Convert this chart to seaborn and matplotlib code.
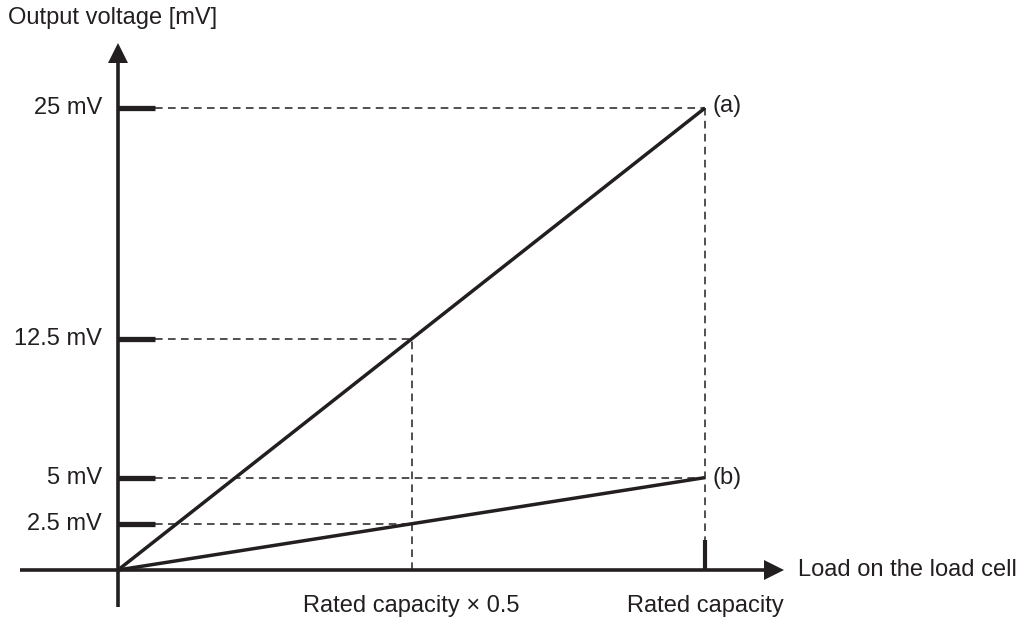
import numpy as np
import pandas as pd
import seaborn as sns
import matplotlib.pyplot as plt

# data: load as fraction of rated capacity, output in mV
load = [0.0, 0.5, 1.0]
out_a = [0.0, 12.5, 25.0]
out_b = [0.0, 2.5, 5.0]
ytick_labels = ["25 mV", "12.5 mV", "5 mV", "2.5 mV"]
xtick_vals = [0.5, 1.0]
xtick_labels = ["Rated capacity \u00d7 0.5", "Rated capacity"]

sns.set_style("white")
plt.rcParams['font.family'] = ['Liberation Sans', 'DejaVu Sans']

ink = "#231f20"
fs = 17

df = pd.DataFrame({
    "load": load * 2,
    "mv": out_a + out_b,
    "line": ["a"] * 3 + ["b"] * 3,
})

fig = plt.figure(figsize=(10.22, 6.18), dpi=100)
ax = fig.add_axes([0, 0, 1, 1])
# pixel mapping: origin at (118, 570), 587 px per rated capacity, 18.48 px per mV
ax.set_xlim(-118 / 587, (1022 - 118) / 587)
ax.set_ylim(-48 / 18.48, 570 / 18.48)
ax.axis("off")

sns.lineplot(data=df, x="load", y="mv", units="line", estimator=None,
             color=ink, lw=2.5, ax=ax, legend=False, solid_capstyle="butt")

# dashed guides to the points of each line
tick_len = 37 / 587
guide_pts = [(load[2], out_a[2]), (load[1], out_a[1]), (load[2], out_b[2]), (load[1], out_b[1])]
for xe, v in guide_pts:
    ax.plot([tick_len, xe], [v, v], color=ink, lw=1.1, ls=(0, (5, 3.5)))
for xe, v in [(load[1], out_a[1]), (load[2], out_a[2])]:
    ax.plot([xe, xe], [0, v], color=ink, lw=1.1, ls=(0, (5, 3.5)))

# axes with arrows
ax.plot([-98 / 587, 768 / 587 - 118 / 587], [0, 0], color=ink, lw=2.6, solid_capstyle="butt")
ax.plot([0, 0], [-37 / 18.48, 510 / 18.48], color=ink, lw=2.6, solid_capstyle="butt")
ax.plot([(774 - 118) / 587], [0], marker=">", ms=14, color=ink, mew=0)
ax.plot([0], [(570 - 53) / 18.48], marker="^", ms=15, color=ink, mew=0)

# y ticks
for (xe, v), lab in zip(guide_pts, ytick_labels):
    ax.plot([0, tick_len], [v, v], color=ink, lw=3.8, solid_capstyle="butt")
    ax.text(-16 / 587, v, lab, ha="right", va="center", fontsize=fs, color=ink)
# x tick at rated capacity
ax.plot([1.0, 1.0], [0, 30 / 18.48], color=ink, lw=3.0, solid_capstyle="butt")
for xv, lab in zip(xtick_vals, xtick_labels):
    ax.text(xv, -36 / 18.48, lab, ha="center", va="center", fontsize=fs, color=ink)

ax.text(7 / 587 + 1.0, out_a[2] + 2 / 18.48, "(a)", ha="left", va="center", fontsize=fs, color=ink)
ax.text(7 / 587 + 1.0, out_b[2], "(b)", ha="left", va="center", fontsize=fs, color=ink)
ax.text((798 - 118) / 587, 0, "Load on the load cell", ha="left", va="center", fontsize=fs, color=ink)
ax.text(-110 / 587, (570 - 18) / 18.48, "Output voltage [mV]", ha="left", va="center", fontsize=fs, color=ink)

fig.savefig("out.png", dpi=100)
